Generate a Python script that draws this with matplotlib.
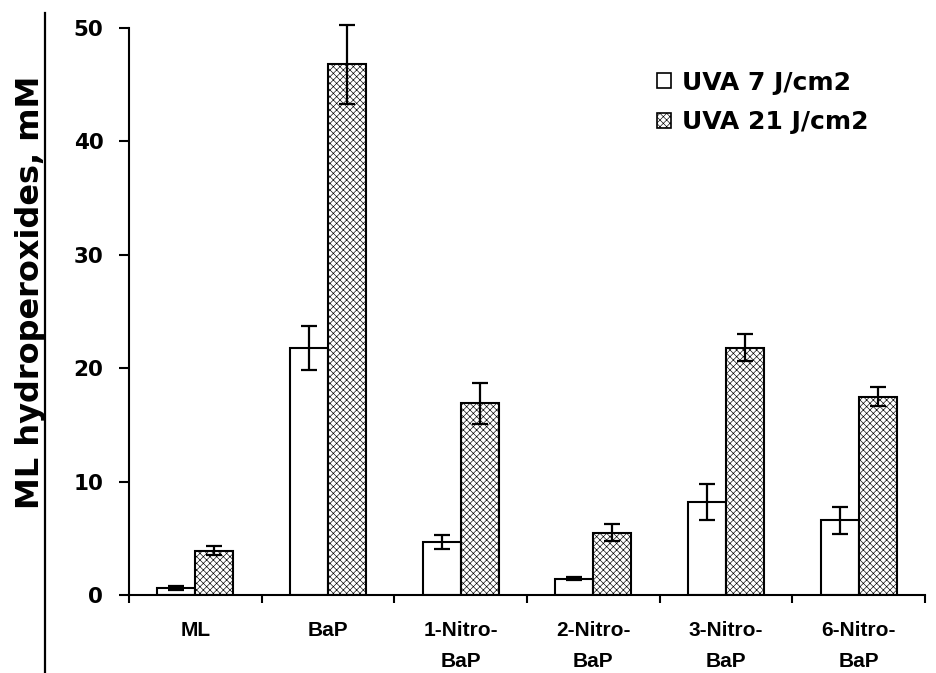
import numpy as np
import matplotlib
matplotlib.use("Agg")
import matplotlib.pyplot as plt
from matplotlib.lines import Line2D

# data
categories = ["ML", "BaP", "1-Nitro-\nBaP", "2-Nitro-\nBaP", "3-Nitro-\nBaP", "6-Nitro-\nBaP"]
uva7 = [0.6, 21.8, 4.7, 1.45, 8.2, 6.6]
uva7_err = [0.2, 1.95, 0.6, 0.12, 1.6, 1.2]
uva21 = [3.9, 46.8, 16.9, 5.5, 21.8, 17.5]
uva21_err = [0.4, 3.5, 1.8, 0.75, 1.2, 0.85]
series_names = ["UVA 7 J/cm2", "UVA 21 J/cm2"]

plt.rcParams["hatch.linewidth"] = 0.45
plt.rcParams["hatch.color"] = "#7a7a7a"

fig = plt.figure(figsize=(9.37, 6.73), dpi=100)
ax = fig.add_axes([0.1377, 0.1159, 0.8495, 0.8425])

x = np.arange(len(categories)) + 0.5
w = 0.287

ax.bar(x - w / 2, uva7, width=w, color="white", edgecolor="black",
       linewidth=1.5, label=series_names[0], zorder=2)
ax.bar(x + w / 2, uva21, width=w, color="white", edgecolor="black",
       linewidth=1.5, hatch="xxxxx", label=series_names[1], zorder=2)

err_kw = dict(fmt="none", ecolor="black", elinewidth=1.6,
              capsize=5.5, capthick=1.6, zorder=3)
for xs, ys, es in [(x - w / 2, uva7, uva7_err), (x + w / 2, uva21, uva21_err)]:
    eb = ax.errorbar(xs, ys, yerr=es, **err_kw)
    for art in eb.lines[1] + eb.lines[2]:
        art.set_clip_on(False)

ax.set_xlim(0, len(categories))
ax.set_ylim(0, 50)

for side in ["top", "right"]:
    ax.spines[side].set_visible(False)
for side in ["left", "bottom"]:
    ax.spines[side].set_linewidth(1.5)

ax.set_yticks([0, 10, 20, 30, 40, 50])
ax.tick_params(axis="y", direction="out", length=7.5, width=1.5, pad=11)
for lab in ax.get_yticklabels():
    lab.set_fontfamily("DejaVu Sans")
    lab.set_fontweight("bold")
    lab.set_fontsize(15.5)

# boundaries carry the ticks, centres carry the names
ax.set_xticks(np.arange(len(categories) + 1))
ax.set_xticklabels([])
ax.tick_params(axis="x", which="major", direction="out", length=6, width=1.5)
ax.set_xticks(x, minor=True)
ax.set_xticklabels(categories, minor=True, fontfamily="Liberation Sans",
                   fontweight="bold", fontsize=15, linespacing=1.8,
                   va="top")
ax.tick_params(axis="x", which="minor", length=0, pad=19)

fig.text(0.033, 0.566, "ML hydroperoxides, mM", rotation=90,
         ha="center", va="center", fontfamily="DejaVu Sans",
         fontweight="bold", fontsize=23)

fig.add_artist(Line2D([0.048, 0.048], [0.0, 0.981], color="black",
                      linewidth=1.6, transform=fig.transFigure))

leg = ax.legend(loc="upper left", bbox_to_anchor=(0.663, 0.925),
                frameon=False, borderpad=0, borderaxespad=0,
                handlelength=0.56, handleheight=0.56, handletextpad=0.45,
                labelspacing=0.62,
                prop=dict(family="DejaVu Sans", weight="bold", size=18))
for h in leg.legend_handles:
    h.set_linewidth(1.2)

fig.savefig("out.png", dpi=100)
